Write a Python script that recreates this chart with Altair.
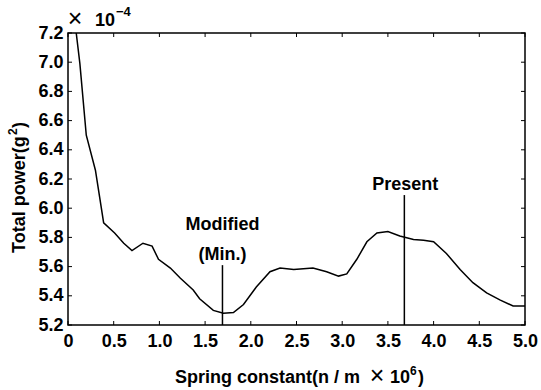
import altair as alt
import pandas as pd

# ---- data ----
spring = [0.05, 0.09, 0.13, 0.20, 0.30, 0.35, 0.39, 0.51, 0.61, 0.70, 0.82, 0.92,
          0.99, 1.12, 1.23, 1.37, 1.44, 1.59, 1.70, 1.81, 1.92, 2.06, 2.21, 2.32,
          2.47, 2.68, 2.83, 2.96, 3.05, 3.16, 3.27, 3.38, 3.50, 3.63, 3.78, 3.89,
          4.00, 4.14, 4.29, 4.43, 4.58, 4.73, 4.87, 5.00]
power = [7.41, 7.20, 6.99, 6.50, 6.26, 6.06, 5.90, 5.83, 5.76, 5.71, 5.76, 5.74,
         5.65, 5.59, 5.52, 5.44, 5.38, 5.30, 5.28, 5.285, 5.34, 5.46, 5.565, 5.59,
         5.58, 5.59, 5.565, 5.535, 5.55, 5.65, 5.77, 5.83, 5.84, 5.81, 5.785, 5.78,
         5.77, 5.69, 5.58, 5.49, 5.42, 5.37, 5.33, 5.33]

marker_x = [1.69, 3.68]
marker_top = [5.61, 6.09]
marker_base = [5.2, 5.2]

label_text = ["Modified", "(Min.)", "Present"]
label_x = [1.69, 1.69, 3.69]
label_y = [5.885, 5.68, 6.16]

x_ticks = [0, 0.5, 1.0, 1.5, 2.0, 2.5, 3.0, 3.5, 4.0, 4.5, 5.0]
y_ticks = [5.2, 5.4, 5.6, 5.8, 6.0, 6.2, 6.4, 6.6, 6.8, 7.0, 7.2]

x_title_parts = ["Spring constant(n / m", "×", "10", "6", ")"]
y_title_parts = ["Total power(g", "2", ")"]
exponent_parts = ["×", "10", "−4"]

W, H = 457, 292
FONT = "Liberation Sans"
FS = 18
FW = "bold"

curve = pd.DataFrame({"x": spring, "y": power})
markers = pd.DataFrame({"x": marker_x, "y": marker_top, "y2": marker_base})
labels = pd.DataFrame({"x": label_x, "y": label_y, "t": label_text})
xt = pd.DataFrame({"x": x_ticks})
yt = pd.DataFrame({"y": y_ticks})

xscale = alt.Scale(domain=[0, 5], nice=False, zero=False)
yscale = alt.Scale(domain=[5.2, 7.2], nice=False, zero=False)

xaxis = alt.Axis(values=x_ticks, ticks=False, tickSize=0, grid=False, domain=False,
                 labelExpr="datum.value == 0 ? '0' : format(datum.value, '.1f')",
                 labelFont=FONT, labelFontSize=FS, labelFontWeight=FW, labelColor="black",
                 labelPadding=7, labelFlush=False, title=None)
yaxis = alt.Axis(values=y_ticks, ticks=False, tickSize=0, grid=False, domain=False,
                 format=".1f", labelFont=FONT, labelFontSize=FS, labelFontWeight=FW,
                 labelColor="black", labelPadding=5, labelFlush=False, title=None)

X = alt.X("x:Q", scale=xscale, axis=xaxis)
Y = alt.Y("y:Q", scale=yscale, axis=yaxis)

line = alt.Chart(curve).mark_line(color="black", strokeWidth=1.5, clip=True).encode(x=X, y=Y)

vlines = alt.Chart(markers).mark_rule(color="black", strokeWidth=1.5).encode(
    x=X, y=Y, y2="y2:Q")

texts = alt.Chart(labels).mark_text(font=FONT, fontSize=FS, fontWeight=FW, color="black",
                                    align="center", baseline="middle").encode(
    x=X, y=Y, text="t:N")

tick_len = 4
xb = alt.Chart(xt).mark_rule(color="black", strokeWidth=1).encode(
    x=X, y=alt.value(H), y2=alt.value(H - tick_len))
xtop = alt.Chart(xt).mark_rule(color="black", strokeWidth=1).encode(
    x=X, y=alt.value(0), y2=alt.value(tick_len))
yl = alt.Chart(yt).mark_rule(color="black", strokeWidth=1).encode(
    y=Y, x=alt.value(0), x2=alt.value(tick_len))
yr = alt.Chart(yt).mark_rule(color="black", strokeWidth=1).encode(
    y=Y, x=alt.value(W), x2=alt.value(W - tick_len))


def piece(txt, x, y, size=FS, weight=FW, align="left", angle=0):
    return alt.Chart(pd.DataFrame({"t": [txt]})).mark_text(
        font=FONT, fontSize=size, fontWeight=weight, color="black", align=align,
        baseline="alphabetic", angle=angle).encode(
        x=alt.value(x), y=alt.value(y), text="t:N")


# exponent label above the y axis
exp_layers = [
    piece(exponent_parts[0], 7, -6, size=25, weight="normal", align="center"),
    piece(exponent_parts[1], 27, -7),
    piece(exponent_parts[2], 48, -17, size=13),
]

# x-axis title, pieced together for the superscript
XB = 350
x_title = [
    piece(x_title_parts[0], 107, XB),
    piece(x_title_parts[1], 309, XB + 1, size=25, weight="normal", align="center"),
    piece(x_title_parts[2], 322, XB),
    piece(x_title_parts[3], 342, XB - 8, size=12),
    piece(x_title_parts[4], 350, XB),
]

# y-axis title, rotated
y_title = [
    piece(y_title_parts[0], -43, 220, angle=270),
    piece(y_title_parts[1], -51, 102, size=12, angle=270),
    piece(y_title_parts[2], -43, 95, angle=270),
]

chart = alt.layer(line, vlines, texts, xb, xtop, yl, yr,
                  *exp_layers, *x_title, *y_title).properties(
    width=W, height=H,
    autosize=alt.AutoSizeParams(type="none"),
    padding={"left": 68, "top": 33, "right": 16, "bottom": 65},
    background="white",
).configure_view(stroke="black", strokeWidth=1.5)

chart.save("out.html", embed_options={"renderer": "svg", "actions": False})
